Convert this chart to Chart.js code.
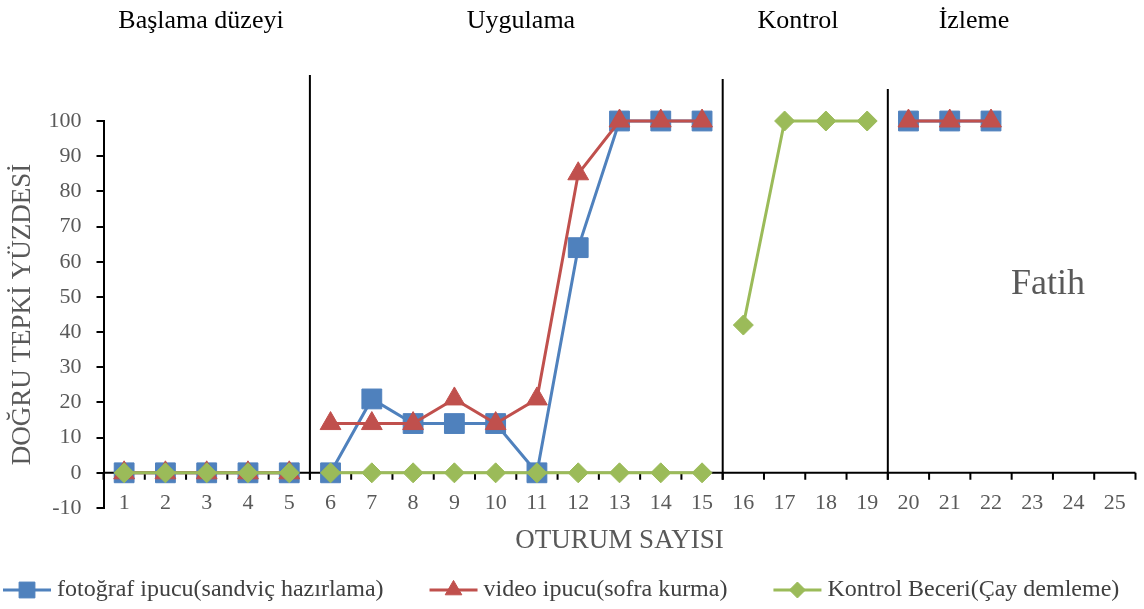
<!DOCTYPE html>
<html lang="tr">
<head>
<meta charset="utf-8">
<title>Fatih - doğru tepki yüzdesi</title>
<script src="https://cdn.jsdelivr.net/npm/chart.js@4.4.0/dist/chart.umd.min.js"></script>
<style>
  html, body { margin: 0; padding: 0; background: #fff; overflow: hidden; }
  #kutu { position: relative; width: 1144px; height: 609px; }
  #grafik { display: block; }
</style>
</head>
<body>
<div id="kutu"><canvas id="grafik"></canvas></div>
<script>
// --- Veriler ---
const oturumlar = ["1","2","3","4","5","6","7","8","9","10","11","12","13","14","15","16","17","18","19","20","21","22","23","24","25"];
const fotografIpucu = [0,0,0,0,0, 0,21,14,14,14,0,64,100,100,100, null,null,null,null, 100,100,100, null,null,null];
const videoIpucu    = [0,0,0,0,0, 14,14,14,21,14,21,85,100,100,100, null,null,null,null, 100,100,100, null,null,null];
const kontrolBeceri = [0,0,0,0,0, 0,0,0,0,0,0,0,0,0,0, 42,100,100,100, null,null,null,null,null,null];
const seriAdlari = ["fotoğraf ipucu(sandviç hazırlama)", "video ipucu(sofra kurma)", "Kontrol Beceri(Çay demleme)"];
const evreler = ["Başlama düzeyi", "Uygulama", "Kontrol", "İzleme"];
const evreSonlari = ["5", "15", "19"]; // her evrenin son oturumu
const yMin = -10, yMax = 100, yAdim = 10;

// --- Görünüm ---
const evreEtiketX = [201, 521, 798, 974];
const cizgiUst = [75, 79, 89];
const renkler = ["#4F81BD", "#C0504D", "#9BBB59"];
const isaretler = ["rect", "triangle", "rectRot"];
const yaricaplar = [14, 12, 10];

Chart.defaults.font.family = "'Liberation Serif', 'Times New Roman', serif";

// evre geçişlerinde çizgi kesilsin
const kesik = ctx => evreSonlari.includes(oturumlar[ctx.p0DataIndex]) ? "rgba(0,0,0,0)" : undefined;

function seri(i, veri, sira) {
    return {
        label: seriAdlari[i],
        data: veri,
        borderColor: renkler[i],
        backgroundColor: renkler[i],
        borderWidth: 3,
        pointStyle: isaretler[i],
        pointRadius: yaricaplar[i],
        pointHoverRadius: yaricaplar[i],
        pointBackgroundColor: renkler[i],
        pointBorderColor: renkler[i],
        pointBorderWidth: 1,
        tension: 0,
        spanGaps: false,
        clip: false,
        order: sira,
        segment: { borderColor: kesik }
    };
}

const evrePlugin = {
    id: "evreler",
    beforeDatasetsDraw(chart) {
        const { ctx, chartArea, scales: { x, y } } = chart;
        const y0 = y.getPixelForValue(0);
        const adim = x.getPixelForValue(1) - x.getPixelForValue(0);
        ctx.save();
        ctx.strokeStyle = "#000";
        ctx.lineWidth = 2;
        // 0 düzeyindeki yatay eksen ve çentikler
        ctx.beginPath();
        ctx.moveTo(chartArea.left, y0);
        ctx.lineTo(chartArea.right, y0);
        for (let i = 0; i <= oturumlar.length; i++) {
            const px = x.getPixelForValue(0) - adim / 2 + i * adim;
            ctx.moveTo(px, y0);
            ctx.lineTo(px, y0 + 7);
        }
        ctx.stroke();
        // evre ayırma çizgileri
        evreSonlari.forEach((son, k) => {
            const px = x.getPixelForValue(oturumlar.indexOf(son)) + adim / 2;
            ctx.beginPath();
            ctx.moveTo(px, cizgiUst[k]);
            ctx.lineTo(px, y0 + 7);
            ctx.stroke();
        });
        // oturum numaraları (eksen 0 ile -10 arasında)
        ctx.fillStyle = "#595959";
        ctx.font = "22px 'Liberation Serif'";
        ctx.textAlign = "center";
        ctx.textBaseline = "middle";
        const ly = (y0 + y.getPixelForValue(yMin)) / 2 + 13;
        oturumlar.forEach((o, i) => ctx.fillText(o, x.getPixelForValue(i), ly));
        ctx.restore();
    },
    afterDraw(chart) {
        const { ctx } = chart;
        ctx.save();
        // evre başlıkları
        ctx.fillStyle = "#000";
        ctx.font = "26px 'Liberation Serif'";
        ctx.textAlign = "center";
        ctx.textBaseline = "middle";
        evreler.forEach((ad, k) => ctx.fillText(ad, evreEtiketX[k], 21));

        ctx.fillStyle = "#595959";
        ctx.font = "36px 'Liberation Serif'";
        ctx.fillText("Fatih", 1048, 285);

        // gösterge (çizgi + işaret)
        ctx.font = "24px 'Liberation Serif'";
        ctx.textAlign = "left";
        const cizgiBoy = 48, bosluk = 6, ara = 46, gy = 590;
        const genislik = seriAdlari.map(t => cizgiBoy + bosluk + ctx.measureText(t).width);
        let sx = 3;
        seriAdlari.forEach((ad, i) => {
            ctx.strokeStyle = renkler[i];
            ctx.fillStyle = renkler[i];
            ctx.lineWidth = 3;
            ctx.beginPath();
            ctx.moveTo(sx, gy);
            ctx.lineTo(sx + cizgiBoy, gy);
            ctx.stroke();
            ctx.lineWidth = 1;
            Chart.helpers.drawPoint(ctx, { pointStyle: isaretler[i], radius: yaricaplar[i] * 0.8, rotation: 0, borderWidth: 1 }, sx + cizgiBoy / 2, gy);
            ctx.fillStyle = "#404040";
            ctx.fillText(ad, sx + cizgiBoy + bosluk, gy);
            sx += genislik[i] + ara;
        });
        ctx.restore();
    }
};

new Chart(document.getElementById("grafik"), {
    type: "line",
    data: {
        labels: oturumlar,
        datasets: [
            seri(0, fotografIpucu, 3),
            seri(1, videoIpucu, 2),
            seri(2, kontrolBeceri, 1)
        ]
    },
    options: {
        responsive: true,
        maintainAspectRatio: false,
        animation: false,
        layout: { autoPadding: false, padding: { left: 0, right: 8.5, top: 121, bottom: 52 } },
        plugins: {
            legend: { display: false },
            tooltip: { enabled: false }
        },
        scales: {
            x: {
                offset: true,
                grid: { display: false, drawTicks: false },
                border: { display: false },
                ticks: { display: false },
                title: { display: true, text: "OTURUM SAYISI", color: "#595959", font: { size: 27 }, padding: 0 },
                afterFit: s => { s.height = 49; }
            },
            y: {
                min: yMin,
                max: yMax,
                ticks: { stepSize: yAdim, color: "#595959", font: { size: 22 }, padding: 15 },
                grid: { display: true, drawOnChartArea: false, drawTicks: true, tickLength: 7, color: "#000", lineWidth: 2 },
                border: { display: true, color: "#000", width: 2 },
                title: { display: true, text: "DOĞRU TEPKİ YÜZDESİ", color: "#595959", font: { size: 27 }, padding: { top: 7, bottom: 0 } },
                afterFit: s => { s.width = 103.5; }
            }
        }
    },
    plugins: [evrePlugin]
});
</script>
</body>
</html>
